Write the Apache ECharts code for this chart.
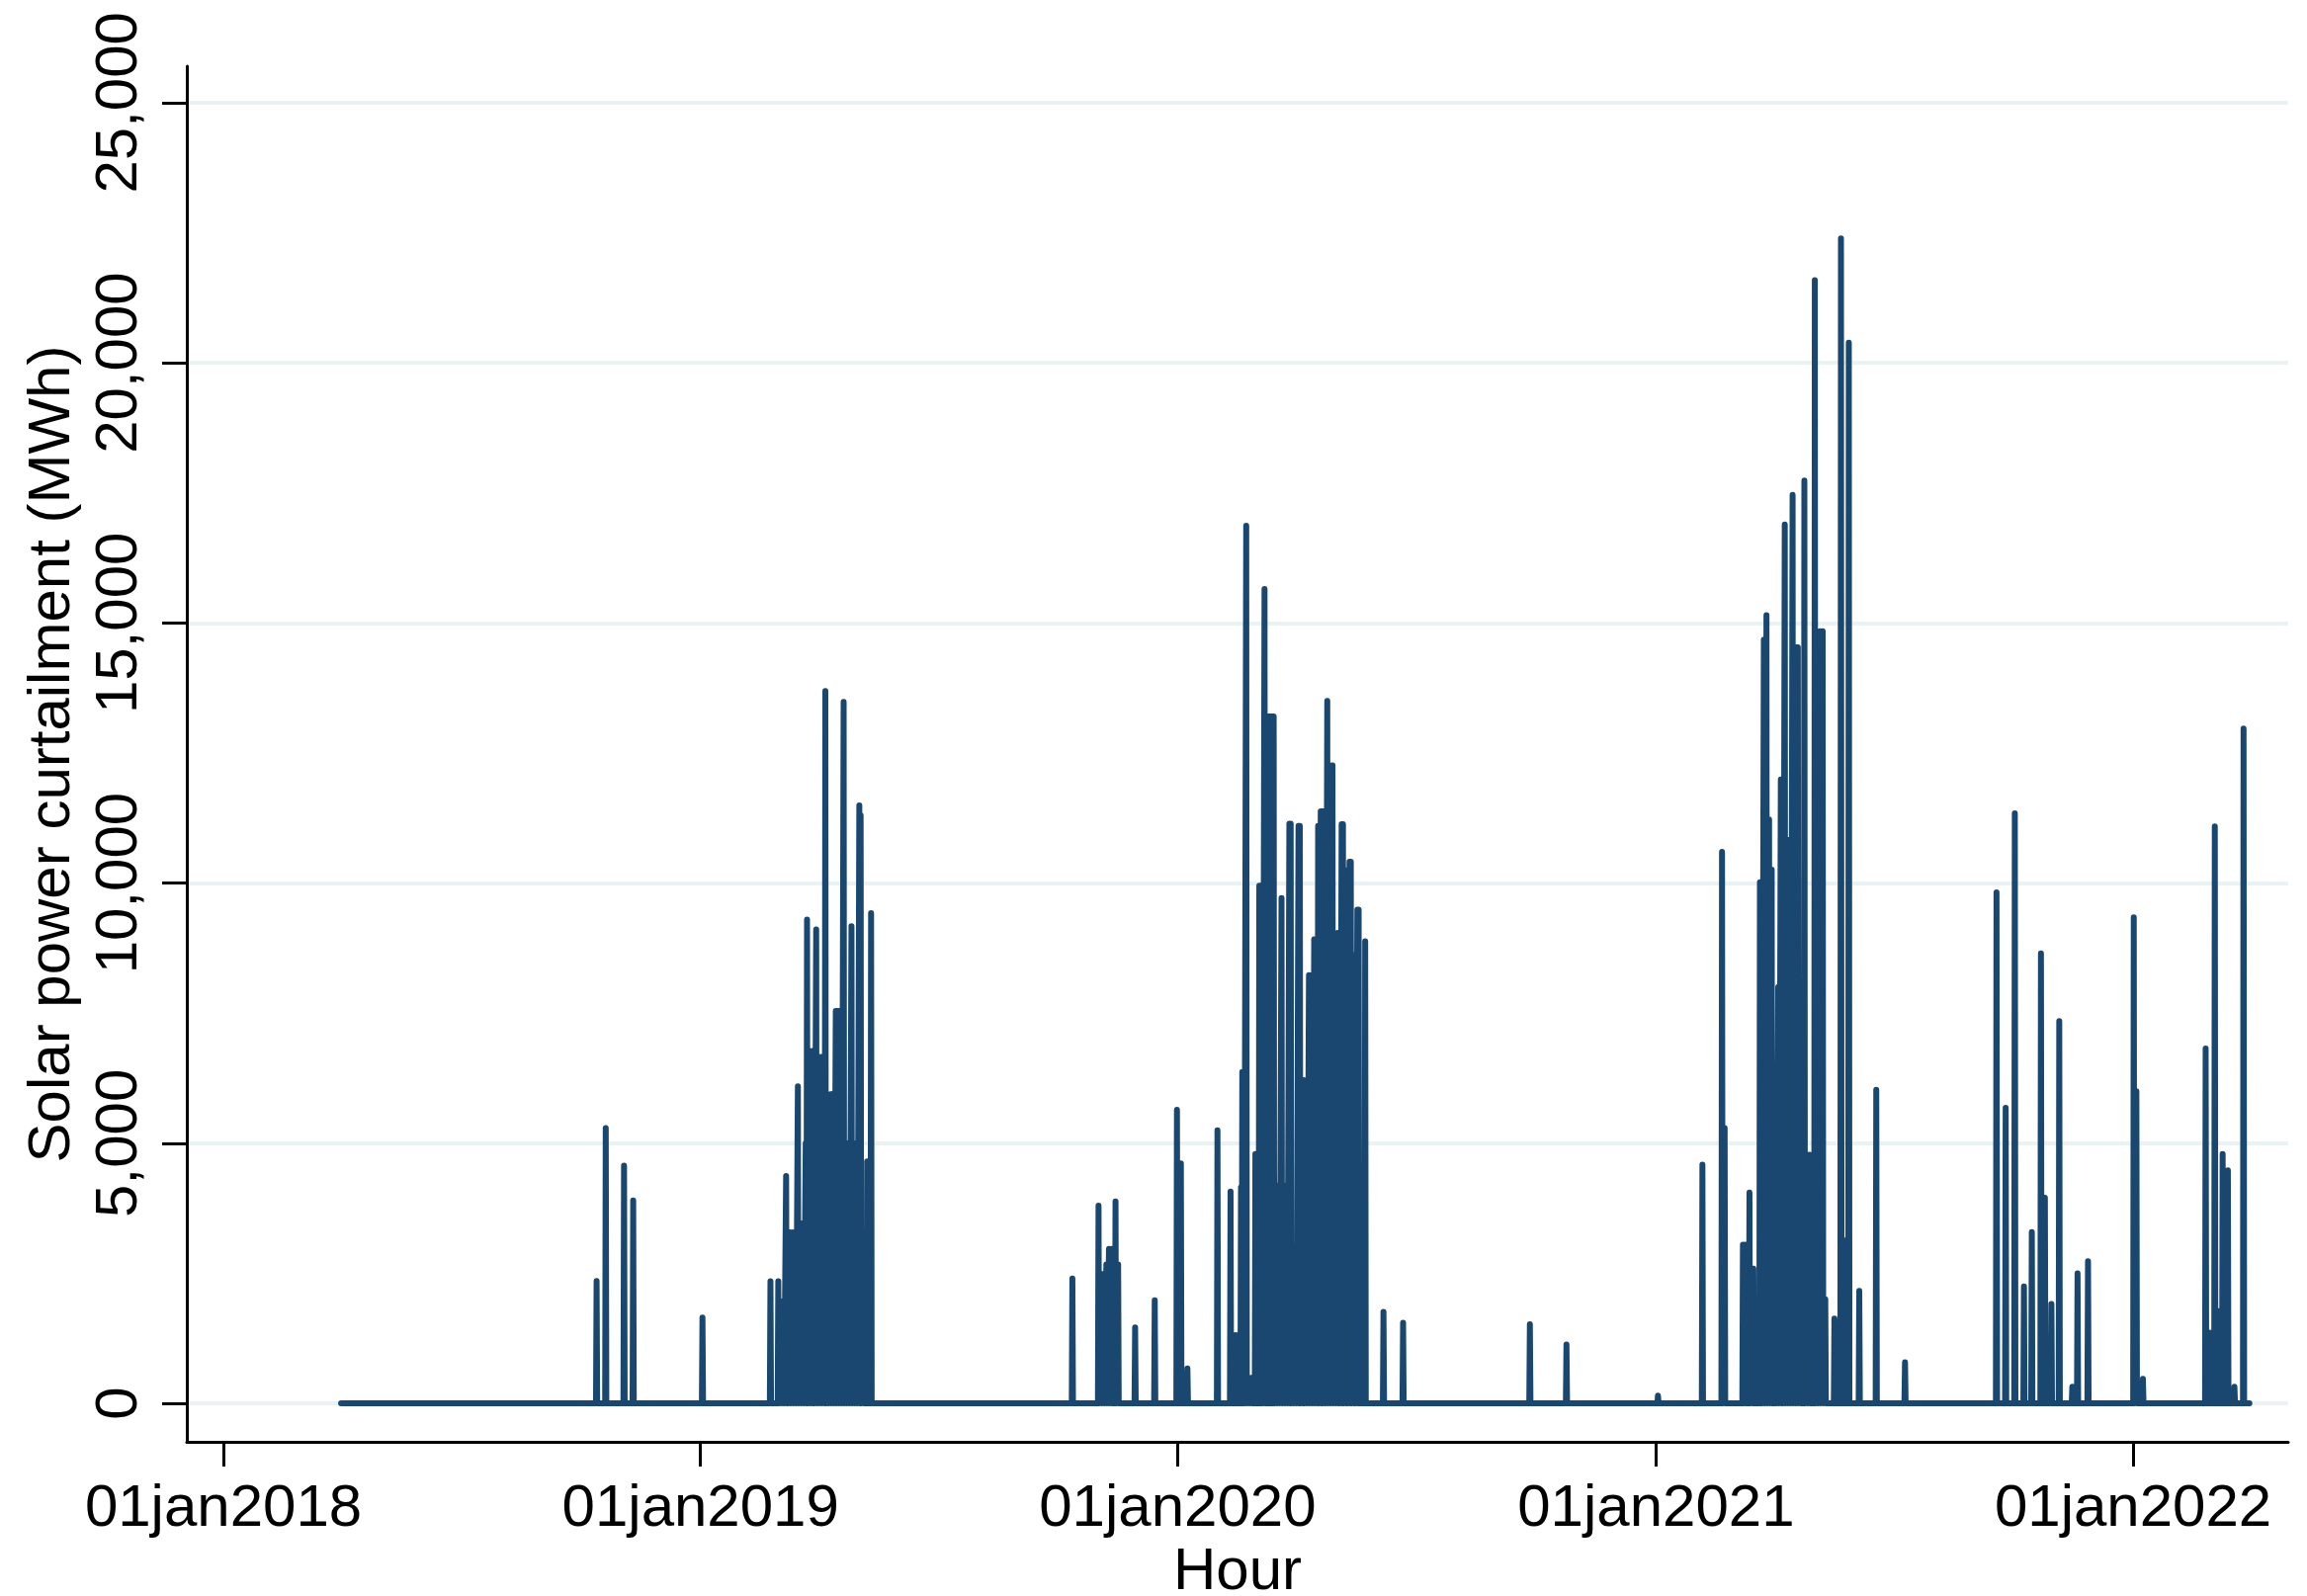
<!DOCTYPE html>
<html>
<head>
<meta charset="utf-8">
<script src="https://cdn.jsdelivr.net/npm/echarts@6/dist/echarts.min.js"></script>
<style>
html,body{margin:0;padding:0;background:#ffffff;}
#chart{width:2334px;height:1615px;}
</style>
</head>
<body>
<div id="chart"></div>
<script>
// ---------------- data ----------------
const seriesStart = '2018-04-01';
const seriesEnd = '2022-03-30';

// daily curtailment peaks [date, MWh]; the series is zero between them
const peaks2018 = [
  ['2018-10-13',2350],['2018-10-20',5290],['2018-11-03',4570],['2018-11-10',3900],['2019-01-02',1650]
];
const peaks2019Spring = [
  ['2019-02-23',2345],['2019-03-01',2345],['2019-03-03',1960],['2019-03-05',1900],['2019-03-07',4370],
  ['2019-03-08',3285],['2019-03-10',3285],['2019-03-12',3285],['2019-03-14',2500],['2019-03-16',6095],
  ['2019-03-18',3460],['2019-03-20',3460],['2019-03-22',5000],['2019-03-23',9300],['2019-03-25',6770],
  ['2019-03-27',6770],['2019-03-28',3800],['2019-03-30',9110],['2019-04-01',6660],['2019-04-03',6660],
  ['2019-04-05',4000],['2019-04-06',13690],['2019-04-08',5000],['2019-04-10',5940],['2019-04-12',5940],
  ['2019-04-14',7540],['2019-04-16',7540],['2019-04-18',4000],['2019-04-20',13480],['2019-04-22',5000],
  ['2019-04-24',4000],['2019-04-26',9170],['2019-04-28',5000],['2019-04-30',4000],['2019-05-02',11490],
  ['2019-05-03',11300],['2019-05-05',3250],['2019-05-08',4650],['2019-05-11',9420]
];
const peaks2020 = [
  ['2019-10-12',2400],['2019-11-01',3800],['2019-11-03',2490],['2019-11-05',2490],['2019-11-07',2670],
  ['2019-11-09',2970],['2019-11-11',2970],['2019-11-14',3880],['2019-11-16',2670],['2019-11-29',1460],
  ['2019-12-14',1980],['2019-12-31',5640],['2020-01-03',4610],['2020-01-08',670],['2020-01-31',5250],
  ['2020-02-10',4070],['2020-02-12',1310],['2020-02-14',1310],['2020-02-18',4150],['2020-02-19',6370],
  ['2020-02-20',3200],['2020-02-22',16870],['2020-02-24',490],['2020-02-26',490],['2020-02-29',4790],
  ['2020-03-01',4790],['2020-03-02',4790],['2020-03-03',9950],['2020-03-04',9950],['2020-03-05',9950],
  ['2020-03-07',15650],['2020-03-08',13200],['2020-03-09',13200],['2020-03-10',13200],['2020-03-11',13200],
  ['2020-03-12',13200],['2020-03-13',13200],['2020-03-14',13200],['2020-03-16',4190],['2020-03-18',4190],
  ['2020-03-20',9710],['2020-03-22',4190],['2020-03-24',4190],['2020-03-26',11140],['2020-03-27',11140],
  ['2020-03-29',2180],['2020-03-31',2180],['2020-04-02',11100],['2020-04-03',11100],['2020-04-05',6210],
  ['2020-04-06',6210],['2020-04-08',3520],['2020-04-10',8230],['2020-04-12',8230],['2020-04-14',8920],
  ['2020-04-16',8920],['2020-04-17',11100],['2020-04-19',11380],['2020-04-20',11380],['2020-04-22',11380],
  ['2020-04-24',13500],['2020-04-26',12260],['2020-04-28',12260],['2020-04-30',4000],['2020-05-02',9040],
  ['2020-05-03',9040],['2020-05-05',11130],['2020-05-06',11130],['2020-05-08',10250],['2020-05-09',10250],
  ['2020-05-11',10410],['2020-05-12',10410],['2020-05-14',8620],['2020-05-15',8620],['2020-05-17',9490],
  ['2020-05-18',9490],['2020-05-20',1200],['2020-05-23',8880],['2020-06-06',1760],['2020-06-21',1550]
];
const peaks2020Autumn = [
  ['2020-09-26',1520],['2020-10-24',1130],['2021-01-02',150]
];
const peaks2021 = [
  ['2021-02-05',4590],['2021-02-20',10600],['2021-02-22',5290],['2021-03-08',3050],['2021-03-10',3050],
  ['2021-03-13',4050],['2021-03-15',2590],['2021-03-16',2590],['2021-03-21',10015],['2021-03-22',10015],
  ['2021-03-24',14680],['2021-03-26',15150],['2021-03-28',11220],['2021-03-30',10260],['2021-04-02',1630],
  ['2021-04-04',8000],['2021-04-06',11990],['2021-04-07',11990],['2021-04-09',16890],['2021-04-11',10830],
  ['2021-04-13',10830],['2021-04-15',17460],['2021-04-17',14530],['2021-04-19',14530],['2021-04-21',2310],
  ['2021-04-24',17735],['2021-04-26',4780],['2021-04-28',4780],['2021-05-02',21590],['2021-05-04',13840],
  ['2021-05-06',14840],['2021-05-08',14840],['2021-05-10',2000],['2021-05-17',1630],['2021-05-22',22390],
  ['2021-05-25',3130],['2021-05-28',20385],['2021-06-05',2160],['2021-06-18',6025],['2021-07-10',790]
];
const peaks2022 = [
  ['2021-09-18',9820],['2021-09-25',5680],['2021-10-02',11340],['2021-10-09',2245],['2021-10-15',3290],
  ['2021-10-22',8650],['2021-10-25',3950],['2021-10-30',1910],['2021-11-05',7345],['2021-11-15',320],
  ['2021-11-19',2500],['2021-11-27',2730],['2022-01-01',9340],['2022-01-03',6000],['2022-01-08',470],
  ['2022-02-25',6820],['2022-02-28',1360],['2022-03-04',11090],['2022-03-07',1770],['2022-03-10',4790],
  ['2022-03-14',4480],['2022-03-19',320],['2022-03-26',12970]
];

const yTickValues = [0, 5000, 10000, 15000, 20000, 25000];
const xTickDates = ['2018-01-01','2019-01-01','2020-01-01','2021-01-01','2022-01-01'];
const xTickLabels = ['01jan2018','01jan2019','01jan2020','01jan2021','01jan2022'];

// ---------------- build ----------------
const HOUR = 3600 * 1000;
function ts(s) { const p = s.split('-').map(Number); return Date.UTC(p[0], p[1] - 1, p[2]); }

const allPeaks = [].concat(peaks2018, peaks2019Spring, peaks2020, peaks2020Autumn, peaks2021, peaks2022);
const lineData = [[ts(seriesStart), 0]];
allPeaks.forEach(function (p) {
  const t = ts(p[0]);
  lineData.push([t + 1 * HOUR, 0], [t + 12 * HOUR, p[1]], [t + 23 * HOUR, 0]);
});
lineData.push([ts(seriesEnd) + 23 * HOUR, 0]);

const xTickValues = xTickDates.map(ts);
const FONT = "'Liberation Sans', Arial, Helvetica, sans-serif";
function commas(v) { return String(v).replace(/\B(?=(\d{3})+(?!\d))/g, ','); }

const chart = echarts.init(document.getElementById('chart'), null, { renderer: 'canvas' });
chart.setOption({
  animation: false,
  backgroundColor: '#ffffff',
  grid: { left: 189, right: 19, top: 67, bottom: 156, containLabel: false, outerBoundsMode: 'none' },
  xAxis: {
    type: 'value',
    min: ts('2017-12-04'),
    max: ts('2022-04-29') + 16 * HOUR,
    name: 'Hour',
    nameLocation: 'middle',
    nameGap: 100,
    nameTextStyle: { fontSize: 60, color: '#000', fontFamily: FONT },
    axisLine: { show: true, onZero: false, lineStyle: { color: '#000', width: 3 } },
    axisTick: { show: true, length: 25, customValues: xTickValues, lineStyle: { color: '#000', width: 3 } },
    axisLabel: {
      show: true, margin: 38, fontSize: 60, color: '#000', fontFamily: FONT,
      customValues: xTickValues,
      formatter: function (v) { const i = xTickValues.indexOf(v); return i >= 0 ? xTickLabels[i] : ''; }
    },
    splitLine: { show: false }
  },
  yAxis: {
    type: 'value',
    min: -740,
    max: 25700,
    name: 'Solar power curtailment (MWh)',
    nameLocation: 'middle',
    nameGap: 106,
    nameTextStyle: { fontSize: 60, color: '#000', fontFamily: FONT },
    axisLine: { show: true, onZero: false, lineStyle: { color: '#000', width: 3 } },
    axisTick: { show: true, length: 25, customValues: yTickValues, lineStyle: { color: '#000', width: 3 } },
    axisLabel: {
      show: true, rotate: 90, margin: 38, fontSize: 60, color: '#000', fontFamily: FONT,
      customValues: yTickValues,
      formatter: function (v) { return commas(v); }
    },
    splitLine: { show: true, lineStyle: { color: '#eaf2f3', width: 4 } }
  },
  series: [{
    type: 'line',
    data: lineData,
    showSymbol: false,
    symbol: 'none',
    sampling: null,
    clip: true,
    lineStyle: { color: '#1a476f', width: 6, cap: 'round', join: 'round' },
    z: 3
  }]
});
</script>
</body>
</html>
